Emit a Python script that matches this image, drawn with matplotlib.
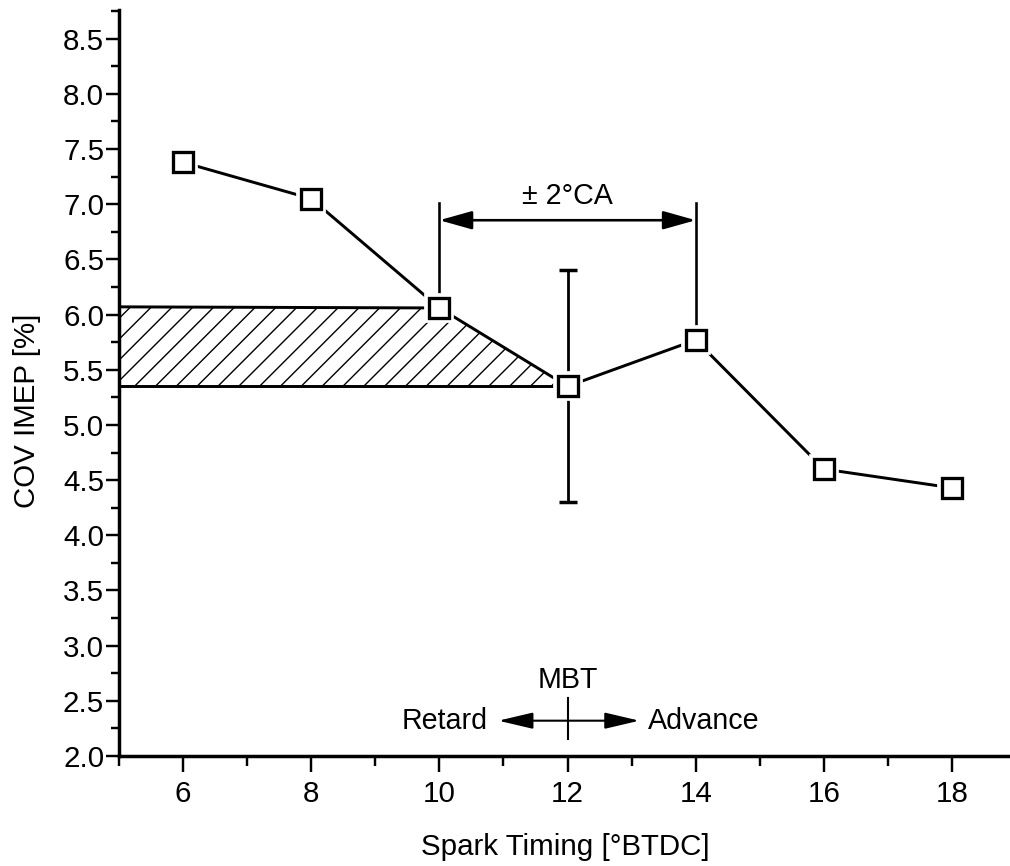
import matplotlib
matplotlib.use("Agg")
import matplotlib.pyplot as plt
from matplotlib.ticker import MultipleLocator

# Daten aus dem Diagramm
spark_timing = [6, 8, 10, 12, 14, 16, 18]
cov_imep = [7.38, 7.05, 6.06, 5.35, 5.77, 4.60, 4.43]

# Fehlerbalken nur bei MBT (12 °BTDC)
err_x = [12]
err_y = [5.35]
err_low = [1.05]
err_high = [1.05]

# schraffierte Fläche
hatch_x = [5, 10, 12]
hatch_top = [6.07, 6.06, 5.35]
hatch_bottom = 5.35

plt.rcParams['font.family'] = ['Liberation Sans', 'DejaVu Sans']
plt.rcParams['hatch.linewidth'] = 0.8

fig = plt.figure(figsize=(1011 / 125, 866 / 125), dpi=125)
ax = fig.add_axes([119 / 1011, 110 / 866, 892 / 1011, 746 / 866])

ax.fill_between(hatch_x, hatch_bottom, hatch_top, facecolor='none',
                edgecolor='black', hatch='//', linewidth=0)
ax.plot([5, 10], [hatch_top[0], hatch_top[1]], color='black', lw=1.7)
ax.plot([5, 12], [hatch_bottom, hatch_bottom], color='black', lw=1.7)

ax.errorbar(err_x, err_y, yerr=[err_low, err_high], fmt='none',
            ecolor='black', elinewidth=1.6, capsize=5, capthick=2)

ax.plot(spark_timing, cov_imep, color='black', lw=1.7, zorder=3)
# weißer Rand -> kleine Lücke zwischen Linie und Marker
ax.plot(spark_timing, cov_imep, 's', color='white', ms=16, zorder=4)
ax.plot(spark_timing, cov_imep, 's', mfc='white', mec='black', mew=1.9,
        ms=12, zorder=5)

# ± 2°CA Bemaßung
ax.plot([10, 10], [7.01, cov_imep[2]], color='black', lw=1.5)
ax.plot([14, 14], [7.01, cov_imep[4]], color='black', lw=1.5)
ax.annotate('', xy=(10, 6.855), xytext=(14, 6.855),
            arrowprops=dict(arrowstyle='<|-|>,head_length=1.6,head_width=0.45',
                            color='black', lw=1.5, shrinkA=0, shrinkB=0,
                            mutation_scale=10))
ax.text(12, 7.07, '± 2°CA', ha='center', va='center', fontsize=16.5)

# MBT Markierung
ax.plot([12, 12], [2.15, 2.53], color='black', lw=1.2)
ax.annotate('', xy=(10.92, 2.32), xytext=(13.12, 2.32),
            arrowprops=dict(arrowstyle='<|-|>,head_length=1.7,head_width=0.4',
                            color='black', lw=1.2, shrinkA=0, shrinkB=0,
                            mutation_scale=10))
ax.text(12, 2.69, 'MBT', ha='center', va='center', fontsize=16.5)
ax.text(10.76, 2.32, 'Retard', ha='right', va='center', fontsize=16.5)
ax.text(13.26, 2.32, 'Advance', ha='left', va='center', fontsize=16.5)

ax.set_xlim(5, 18.92)
ax.set_ylim(2.0, 8.76)
ax.xaxis.set_major_locator(MultipleLocator(2))
ax.xaxis.set_minor_locator(MultipleLocator(1))
ax.yaxis.set_major_locator(MultipleLocator(0.5))
ax.yaxis.set_minor_locator(MultipleLocator(0.25))
ax.set_xticks([6, 8, 10, 12, 14, 16, 18])
ax.yaxis.set_major_formatter(plt.FormatStrFormatter('%.1f'))

for s in ['top', 'right']:
    ax.spines[s].set_visible(False)
for s in ['left', 'bottom']:
    ax.spines[s].set_linewidth(2)

ax.tick_params(axis='y', which='major', length=7.5, width=1.4, labelsize=17, pad=1)
ax.tick_params(axis='y', which='minor', length=4.5, width=1.4)
ax.tick_params(axis='x', which='major', length=9, width=1.4, labelsize=17, pad=5)
ax.tick_params(axis='x', which='minor', length=5.5, width=1.4)

ax.set_xlabel('Spark Timing [°BTDC]', fontsize=17)
ax.set_ylabel('COV IMEP [%]', fontsize=17)
ax.xaxis.set_label_coords(0.5, -0.103)
ax.yaxis.set_label_coords(-0.087, 0.4625)

fig.savefig('out.png', dpi=125)
